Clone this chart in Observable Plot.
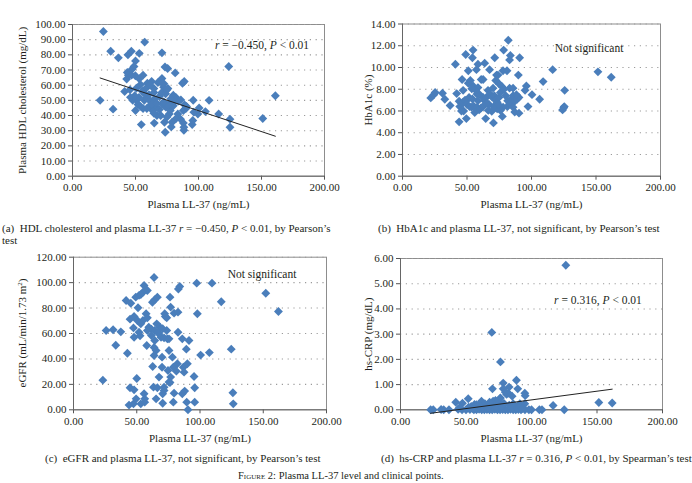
<!DOCTYPE html>
<html>
<head>
<meta charset="utf-8">
<script src="https://cdn.jsdelivr.net/npm/d3@7"></script>
<script src="https://cdn.jsdelivr.net/npm/@observablehq/plot@0.6"></script>
<style>
  html, body { margin: 0; padding: 0; background: #fff; }
  #root { position: relative; width: 692px; height: 483px; overflow: hidden; font-family: "Liberation Serif", "DejaVu Serif", serif; color: #231f20; }
  .panel { position: absolute; }
  .cap { position: absolute; font-size: 11px; line-height: 11.5px; white-space: nowrap; }
  .note { position: absolute; font-size: 11.5px; white-space: nowrap; transform: translate(-50%, -50%); }
</style>
</head>
<body>
<div id="root"></div>
<script>
// ---------- data ----------
const xTicks = [0, 50, 100, 150, 200];
const hdlTicks = [0, 10, 20, 30, 40, 50, 60, 70, 80, 90, 100];
const hba1cTicks = [0, 2, 4, 6, 8, 10, 12, 14];
const egfrTicks = [0, 20, 40, 60, 80, 100, 120];
const crpTicks = [0, 1, 2, 3, 4, 5, 6];

// [plasma LL-37, HDL cholesterol]
const hdlPoints = [
  [24.5,95.4],[30.3,82.4],[36.4,78],[44,80],[46.7,82.4],[53,81],[57.3,88.4],[71,81.3],
  [21.9,50],[32.2,44.2],[47.2,70.5],[50,76],[43.5,68.4],[48.8,72.3],[43,64],[56,66.6],
  [49.9,66.2],[41.4,55.8],[45.6,57],[50.7,58],[54,60.4],[59.4,61.3],[62.8,62.4],[64.6,55.2],
  [73.4,72],[75.5,71],[81.5,68.1],[87.3,61.3],[88.7,62.4],[71,64.4],[72.3,58.7],[54.6,34],
  [64.9,35],[73.6,29],[78.4,32.5],[88.4,30.3],[88.4,32.3],[95.8,50.1],[108.4,50],[124,72.3],
  [125,37.6],[125,32.3],[116,41],[105.5,42.6],[100.5,45],[151,38],[161,53],[99.5,41],
  [96.3,42.2],[95,34],[95.5,36.7],[89,47],[90,44.6],[84,49.5],[82,52],[79,49],
  [76.8,41],[77.6,43.3],[75,39],[73,35.6],[71,47.7],[69,44],[66,45.5],[63.6,43.3],
  [61.5,46.4],[59,44.6],[56,44.6],[54,46],[50,43.3],[47.8,50],[46,52],[51,50],
  [57,50],[59,51.6],[61,50],[65,51],[69,52.5],[70.7,55],[73.9,54.3],[75,57],
  [80,53.4],[82,50],[86,50.3],[80,46.4],[83.6,41],[85.8,37.6],[88,35],[82,37.8],
  [79,35.6],[67,40],[64.6,41.5],[70,40],[63,47.7],[67,48],[74,45.5],[76,47],
  [78,51],[58.6,58.2],[57.3,54.3],[55.4,56],[52.8,52],[49.4,53],[52,47.3],[53,64.2],
  [44.3,66.6],[46.9,66.6],[67.8,61.8],[64.6,57.8],[61.5,60],[60.7,53.8],[72.5,49],[88,43.3],
  [90.5,46],[75.7,57.8],[72.5,61],[71.5,61]
];
// fitted line: y = intercept + slope * x
const hdlFit = [70.8, -0.276];

// [plasma LL-37, HbA1c]
const hba1cPoints = [
  [21.9,7.2],[24.3,7.5],[25.3,7.7],[31,7.63],[32.8,7.08],[36.9,6.5],[41,10.3],[42,7.6],
  [43.9,5],[43.9,6.9],[46.2,8.9],[47,7.9],[49,11.2],[54.7,11.6],[54.2,10.9],[51,9.7],
  [49.5,5.3],[47.4,6],[49.5,6.95],[51,8.55],[54.7,8.3],[57.3,9.8],[58.5,8.15],[57.7,7.55],
  [61,8.9],[63.7,10.4],[67.5,9.8],[64.5,5.3],[66.5,6.05],[70.5,4.9],[71.5,10.9],[74,9.3],
  [78.4,11.6],[82,12.5],[83.6,11.1],[83,10.7],[90.8,10.9],[77.9,9.7],[81,9.7],[89.8,9.3],
  [77.4,5.5],[81.3,6.4],[87,5.9],[90.3,5.8],[97.3,6.4],[96,8.3],[95,7.9],[100.4,7.5],
  [106.3,7.08],[109,8.7],[116.4,9.8],[125,6.3],[125.7,7.9],[125.4,6.4],[124.1,6.1],[151.5,9.6],
  [161.8,9.1],[44.4,6.4],[45.7,6],[47,6.8],[48.5,7],[50,6.6],[52,6.4],[53.4,6.35],
  [55.2,6.45],[57.8,6.35],[59.4,6.1],[61,6.3],[62.5,6.4],[63.7,6.95],[65,7.25],[66.3,7.9],
  [68,7.55],[69.7,7.25],[71.2,7.4],[72.3,7],[73.4,6.8],[74.8,7.25],[75.9,7.7],[77,8.25],
  [74.8,8.5],[78.6,8],[80,7.4],[81.5,6.95],[83,6.65],[84.6,7.1],[85.7,7.4],[87,6.9],
  [88.8,7.08],[90.3,7.25],[88.3,7.5],[83,8.1],[78,6.35],[75.9,6.05],[73.4,6.2],[70.7,6.4],
  [69.2,5.98],[74.3,6.6],[67.1,6.6],[65,6.7],[62.5,7.25],[59.4,7.55],[56.8,7.9],[53.7,8.05],
  [51.6,7.25],[52.6,8.8],[62.5,8.9],[72.3,8.8],[85.7,8.1],[72.9,9.3],[70.2,8.1],[58.5,6.95],
  [54.2,7.1],[56,5.85],[85.7,6.35],[58.5,10.3]
];

// [plasma LL-37, eGFR]
const egfrPoints = [
  [23.2,23.3],[25.8,62.4],[31.3,62.9],[33.4,50.8],[37.4,61.3],[41.6,86],[42.6,44.5],[45.3,83.8],
  [44.7,71.3],[44.7,17.3],[43.9,3.7],[47.4,4.7],[47.9,73.4],[47.4,64.4],[47.9,57.1],[50,24.6],
  [51,80.2],[49.2,88.6],[51.8,90],[50.5,70.2],[52.6,58.2],[53.2,4.7],[54.9,70.2],[55.8,97.7],
  [57.4,94.3],[57.4,75.5],[58.4,72.3],[57.9,50.6],[55.8,12.6],[56.3,6],[56.3,8.6],[59.5,65],
  [61.6,63.4],[62.6,34],[63.2,17.8],[63.7,104],[62.4,84.6],[64.2,86.5],[66.3,88.6],[64.2,62.4],
  [64.2,54.5],[65.3,46.6],[63.7,42.7],[65.3,8.6],[66.3,17.3],[67.6,59.7],[68.4,65],[70,41.4],
  [70,33.5],[70.5,12.6],[70.5,5.2],[71.6,17.8],[72.1,75.5],[72.6,73.4],[73.7,62.4],[74.2,55.8],
  [74.7,30.9],[75.5,46.6],[76.3,88.6],[76.8,80.7],[76.8,25.7],[76.3,21.5],[78.2,41.4],[78.9,33.5],
  [79.5,76],[79.5,13.1],[78.9,6],[82.1,36.2],[81.3,30.4],[82.9,95],[84,97],[82.6,61],
  [82.6,76.8],[86,55.8],[86.8,33.5],[87.4,29.6],[89.2,47.7],[90,36.2],[89.5,6],[90.5,0],
  [91.3,54.5],[86,12.6],[87.9,14.7],[95.3,26.2],[95.8,17.3],[95.8,6],[97.4,99.6],[97.9,75.5],
  [100.5,43],[107.4,45],[109.5,99.6],[116.8,85],[124.7,47.7],[126,13.4],[126.3,4.7],[152,91.7],
  [162,77.3],[51.8,61],[53.2,67.6],[58.4,62.4],[61.6,58.4],[65.8,67.6],[69.2,57.1],[71.6,56.6],
  [75.5,55.8],[66.8,61],[70.5,63.7],[63.7,49],[75.5,21.8],[67.6,25.7],[71.6,15.2],[49.5,8.6],
  [47.9,15.7],[58.4,93.8],[54.7,92.2],[53.2,90.6],[73.7,72.3]
];

// [plasma LL-37, hs-CRP]
const crpPoints = [
  [126.2,5.73],[69.7,3.07],[76.3,1.9],[88.5,1.17],[78.4,1.06],[82.9,0.9],[89.5,0.83],[70.2,0.83],
  [78.4,0.83],[81,0.61],[85.2,0.54],[94.9,0.66],[95.2,0.56],[82.4,0.66],[42.2,0.3],[47.3,0.26],
  [51.7,0.44],[61.8,0.34],[70.7,0.34],[75.8,0.44],[73.3,0.3],[116.5,0.17],[151.4,0.29],[161.6,0.27],
  [94.9,0.24],[56.5,0.21],[64.4,0.24],[66.9,0.17],[59.3,0.13],[54,0.13],[86,0.24],[91.1,0.24],
  [72.5,0.37],[80,0.7],[76.3,0.47],
  [23,0],[25,0],[31,0.01],[33,0],[37,0],[44,0.02],[47,0],[50,0],[53,0.01],[56,0],[58,0],
  [60,0.02],[62,0],[64,0],[66,0.01],[68,0],[70,0],[72,0.02],[74,0],[76,0],[78,0.01],[80,0],
  [82,0],[84,0.02],[86,0],[88,0],[90,0.01],[92,0],[95,0],[98,0],[100,0],[106,0],[108,0],[125,0],
  [45,0.08],[52,0.1],[55,0.05],[61,0.12],[63,0.08],[65,0.15],[67,0.1],[71,0.2],[73,0.12],
  [77,0.15],[79,0.25],[83,0.18],[85,0.1],[87,0.15],[89,0.08],[91,0.12],[93,0.05],[75,0.35],
  [68,0.3],[58,0.2],[60,0.18]
];
const crpFit = [-0.297, 0.0069];

// ---------- styles ----------
const BLUE = "#4a7ebb";
const fmt = d3.format(".2f");
const root = document.getElementById("root");

function panel({points, yTicks, yLabel, yLabelHtml, fit, noteHtml, noteX, noteY, margins, left, top}) {
  const [mt, mr, mb, ml] = margins;
  const W = 346, H = 215;
  const marks = [
    Plot.frame({stroke: "#8d8d8d", strokeWidth: 1}),
    Plot.ruleY(yTicks.filter(t => t > 0), {stroke: "#9b9b9b", strokeWidth: 1.1, strokeDasharray: "1.2,4.6"}),
    Plot.axisX({ticks: xTicks, tickFormat: fmt, tickSize: 4, tickPadding: 3, label: null, stroke: "#555"}),
    Plot.axisY({ticks: yTicks, tickFormat: fmt, tickSize: 4, tickPadding: 3, label: null, stroke: "#555"}),
    Plot.ruleX([0], {stroke: "#666"}),
    Plot.ruleY([0], {stroke: "#666"}),
    Plot.dot(points, {x: d => d[0], y: d => d[1], symbol: "diamond2", r: 4, fill: BLUE, stroke: "none"}),
    Plot.text(["Plasma LL-37 (ng/mL)"], {frameAnchor: "bottom", dy: 28.5, lineAnchor: "middle", fontSize: 11, fill: "#231f20"})
  ];
  if (yLabel) {
    marks.push(Plot.text([yLabel], {frameAnchor: "left", dx: -(ml - 22), rotate: -90, lineAnchor: "middle", textAnchor: "middle", fontSize: 11, fill: "#231f20"}));
  }
  if (fit) {
    const ext = d3.extent(points, d => d[0]);
    const line = ext.map(x => ({x, y: fit[0] + fit[1] * x}));
    marks.push(Plot.line(line, {x: "x", y: "y", stroke: "#222", strokeWidth: 1}));
  }
  const svg = Plot.plot({
    width: W, height: H,
    marginTop: mt, marginRight: mr, marginBottom: mb, marginLeft: ml,
    x: {domain: [0, 200]},
    y: {domain: [yTicks[0], yTicks[yTicks.length - 1]]},
    style: {fontFamily: "'Liberation Serif', 'DejaVu Serif', serif", fontSize: "11px", color: "#231f20", background: "transparent", overflow: "visible"},
    marks
  });
  const div = document.createElement("div");
  div.className = "panel";
  div.style.left = left + "px";
  div.style.top = top + "px";
  div.appendChild(svg);
  if (yLabelHtml) {
    const lab = document.createElement("div");
    lab.innerHTML = yLabelHtml;
    lab.style.cssText = "position:absolute;font-size:11px;white-space:nowrap;transform:translate(-50%,-50%) rotate(-90deg);";
    lab.style.left = "22px";
    lab.style.top = (mt + (H - mt - mb) / 2) + "px";
    div.appendChild(lab);
  }
  // in-plot annotation (relative to the frame's top-right corner)
  const note = document.createElement("div");
  note.className = "note";
  note.innerHTML = noteHtml;
  note.style.left = (W - mr - noteX) + "px";
  note.style.top = (mt + noteY) + "px";
  div.appendChild(note);
  root.appendChild(div);
}

panel({points: hdlPoints, yTicks: hdlTicks, yLabel: "Plasma HDL cholesterol (mg/dL)", fit: hdlFit,
  noteHtml: "<i>r</i> = −0.450, <i>P</i> &lt; 0.01", noteX: 62, noteY: 21, margins: [24, 22, 39.3, 72], left: 0, top: 0});
panel({points: hba1cPoints, yTicks: hba1cTicks, yLabel: "HbA1c (%)",
  noteHtml: "Not significant", noteX: 71, noteY: 24, margins: [23.5, 32, 39.3, 56], left: 346, top: 0});
panel({points: egfrPoints, yTicks: egfrTicks, yLabelHtml: "eGFR (mL/min/1.73 m<sup style='font-size:7px'>2</sup>)",
  noteHtml: "Not significant", noteX: 64, noteY: 17, margins: [26.7, 20, 35.7, 73], left: 0, top: 230});
panel({points: crpPoints, yTicks: crpTicks, yLabel: "hs-CRP (mg/dL)", fit: crpFit,
  noteHtml: "<i>r</i> = 0.316, <i>P</i> &lt; 0.01", noteX: 64, noteY: 42, margins: [28, 30, 35.7, 54], left: 346, top: 230});

// ---------- captions ----------
const captions = [
  {html: "(a)&nbsp; HDL cholesterol and plasma LL-37 <i>r</i> = −0.450, <i>P</i> &lt; 0.01, by Pearson’s<br>test", left: 2, top: 223},
  {html: "(b)&nbsp; HbA1c and plasma LL-37, not significant, by Pearson’s test", left: 378, top: 223},
  {html: "(c)&nbsp; eGFR and plasma LL-37, not significant, by Pearson’s test", left: 45, top: 453},
  {html: "(d)&nbsp; hs-CRP and plasma LL-37 <i>r</i> = 0.316, <i>P</i> &lt; 0.01, by Spearman’s test", left: 381, top: 453},
  {html: "<span style='font-variant:small-caps'>Figure</span> 2: Plasma LL-37 level and clinical points.", left: 238, top: 470, size: 10.5}
];
for (const c of captions) {
  const d = document.createElement("div");
  d.className = "cap";
  d.innerHTML = c.html;
  d.style.left = c.left + "px";
  d.style.top = c.top + "px";
  if (c.size) d.style.fontSize = c.size + "px";
  root.appendChild(d);
}
</script>
</body>
</html>
